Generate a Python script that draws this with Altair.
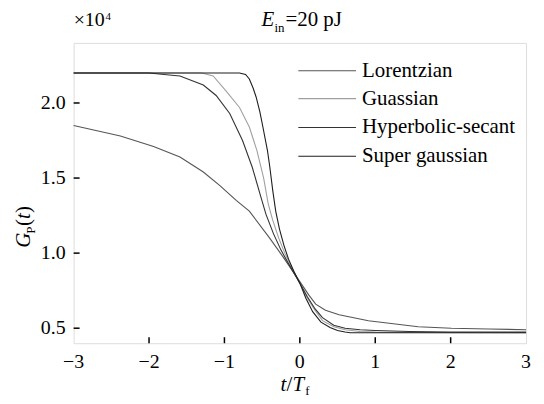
import altair as alt
import pandas as pd

# ---- data (gain, in units of 10^4) ----
t_lor = [-3.0, -2.38, -1.94, -1.59, -1.28, -1.06, -0.84, -0.67, -0.40, -0.23, 0.0, 0.12, 0.21, 0.34, 0.52, 0.91, 1.57, 2.01, 2.5, 3.0]
g_lor = [1.85, 1.78, 1.71, 1.64, 1.54, 1.45, 1.35, 1.28, 1.10, 0.98, 0.81, 0.72, 0.66, 0.62, 0.59, 0.55, 0.51, 0.50, 0.495, 0.49]

t_gau = [-3.0, -1.3, -1.15, -0.98, -0.80, -0.67, -0.57, -0.48, -0.42, -0.36, -0.28, -0.20, -0.12, -0.05, 0.0, 0.1, 0.2, 0.3, 0.45, 0.6, 0.8, 1.0, 1.5, 3.0]
g_gau = [2.2, 2.2, 2.18, 2.08, 1.97, 1.84, 1.685, 1.50, 1.33, 1.22, 1.10, 1.00, 0.92, 0.85, 0.80, 0.70, 0.62, 0.55, 0.51, 0.49, 0.478, 0.474, 0.471, 0.47]

t_sec = [-3.0, -2.0, -1.8, -1.59, -1.28, -1.11, -0.93, -0.76, -0.63, -0.52, -0.45, -0.35, -0.25, -0.15, -0.07, 0.0, 0.1, 0.2, 0.3, 0.45, 0.6, 0.8, 1.0, 1.45, 2.0, 3.0]
g_sec = [2.2, 2.2, 2.19, 2.18, 2.12, 2.05, 1.93, 1.75, 1.57, 1.38, 1.26, 1.13, 1.02, 0.93, 0.86, 0.80, 0.71, 0.63, 0.57, 0.52, 0.50, 0.49, 0.485, 0.478, 0.475, 0.474]

t_sg = [-3.0, -0.8, -0.72, -0.67, -0.62, -0.58, -0.53, -0.49, -0.43, -0.40, -0.36, -0.32, -0.27, -0.21, -0.15, -0.08, 0.0, 0.08, 0.17, 0.28, 0.4, 0.5, 0.6, 0.67, 3.0]
g_sg = [2.2, 2.2, 2.19, 2.16, 2.10, 2.04, 1.94, 1.84, 1.685, 1.58, 1.42, 1.28, 1.16, 1.05, 0.96, 0.88, 0.80, 0.70, 0.61, 0.54, 0.505, 0.485, 0.475, 0.47, 0.47]

series_names = ["Lorentzian", "Guassian", "Hyperbolic-secant", "Super gaussian"]
series_colors = ["#555555", "#a0a0a0", "#333333", "#1e1e1e"]

x_ticks = [-3, -2, -1, 0, 1, 2, 3]
y_ticks = [0.5, 1.0, 1.5, 2.0]
x_inner_ticks = [-2, -1, 0, 1, 2]

rows = []
for name, ts, gs in zip(series_names, [t_lor, t_gau, t_sec, t_sg], [g_lor, g_gau, g_sec, g_sg]):
    for i, (t, g) in enumerate(zip(ts, gs)):
        rows.append({"series": name, "t": t, "g": g, "order": i})
df = pd.DataFrame(rows)

W, H = 455, 302
FONT = "Liberation Serif"
xs = alt.Scale(domain=[-3, 3], nice=False, zero=False)
ys = alt.Scale(domain=[0.4, 2.4], nice=False, zero=False)
cs = alt.Scale(domain=series_names, range=series_colors)

lines = alt.Chart(df).mark_line(strokeWidth=1.1).encode(
    x=alt.X("t:Q", scale=xs, axis=None),
    y=alt.Y("g:Q", scale=ys, axis=None),
    color=alt.Color("series:N", scale=cs, legend=None),
    order="order:Q",
)

xt = alt.Chart(pd.DataFrame({"v": x_inner_ticks})).mark_rule(color="black", strokeWidth=1.5).encode(
    x=alt.X("v:Q", scale=xs), y=alt.value(H), y2=alt.value(H - 6))
yt = alt.Chart(pd.DataFrame({"v": y_ticks})).mark_rule(color="black", strokeWidth=1.5).encode(
    y=alt.Y("v:Q", scale=ys), x=alt.value(0), x2=alt.value(6))

# tick labels as serif text through the scales
xl = alt.Chart(pd.DataFrame({"v": x_ticks})).mark_text(
    font=FONT, fontSize=20, align="center", baseline="top", color="black").encode(
    x=alt.X("v:Q", scale=xs), y=alt.value(H + 9), text=alt.Text("v:Q", format="d"))
yl = alt.Chart(pd.DataFrame({"v": y_ticks})).mark_text(
    font=FONT, fontSize=20, align="right", baseline="middle", color="black").encode(
    y=alt.Y("v:Q", scale=ys), x=alt.value(-8), text=alt.Text("v:Q", format=".1f"))

layers = [lines, xt, yt, xl, yl]

# legend (manual)
leg_y = [28, 56, 85, 114]
for name, col, ly in zip(series_names, series_colors, leg_y):
    d = pd.DataFrame({"series": [name]})
    layers.append(alt.Chart(d).mark_rule(color=col, strokeWidth=1.1).encode(
        x=alt.value(226), x2=alt.value(284), y=alt.value(ly)))
    layers.append(alt.Chart(d).mark_text(font=FONT, fontSize=21, align="left", baseline="middle",
                                         color="black").encode(
        text="series:N", x=alt.value(290), y=alt.value(ly)))

def txt(s, x, y, size=19, style="normal", angle=0, align="left", baseline="alphabetic"):
    kw = dict(font=FONT, fontSize=size, fontStyle=style, align=align, baseline=baseline, color="black")
    if angle:
        kw["angle"] = angle
    return alt.Chart(pd.DataFrame({"s": [s]})).mark_text(**kw).encode(
        text="s:N", x=alt.value(x), y=alt.value(y))

# x10^4
layers += [txt("\u00d710", 0, -17, 20), txt("4", 32, -23, 11)]
# E_in = 20 pJ
layers += [txt("E", 189, -17, 21, "italic"), txt("in", 202, -11, 13), txt("=20 pJ", 213, -17, 21)]
# x title t/T_f
layers += [txt("t", 208, 350, 21, "italic"), txt("/", 214, 350, 21), txt("T", 220, 350, 21, "italic"),
           txt("f", 233, 354, 13)]
# y title G_P(t)
layers += [txt("G", -44, 206, 21, "italic", 270), txt("P", -39, 192, 13, "normal", 270),
           txt("(", -44, 184, 21, "normal", 270), txt("t", -44, 177, 21, "italic", 270),
           txt(")", -44, 171, 21, "normal", 270)]

chart = alt.layer(*layers).properties(
    width=W, height=H,
    autosize=alt.AutoSizeParams(type="none"),
    padding={"left": 66, "top": 34, "right": 10, "bottom": 58},
).configure_view(stroke="black", strokeWidth=1.8).configure(background="white")

chart.save("out.html", embed_options={"renderer": "svg", "actions": False})
